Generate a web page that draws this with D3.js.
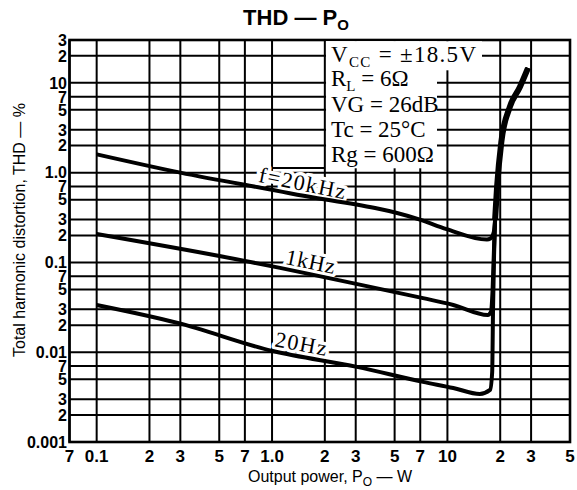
<!DOCTYPE html>
<html><head><meta charset="utf-8">
<script src="https://cdn.jsdelivr.net/npm/d3@7"></script>
<style>body{margin:0;background:#fff}</style>
</head><body><svg id="c" width="577" height="490"></svg>
<script>
// ---- data ----
const xTicks=[0.07,0.1,0.2,0.3,0.5,0.7,1,2,3,5,7,10,20,30,50];
const xTickLabels=["7","0.1","2","3","5","7","1.0","2","3","5","7","10","2","3","5"];
const yTicks=[0.001,0.002,0.003,0.005,0.007,0.01,0.02,0.03,0.05,0.07,0.1,0.2,0.3,0.5,0.7,1,2,3,5,7,10,20,30];
const yTickLabels=["0.001","2","3","5","7","0.01","2","3","5","7","0.1","2","3","5","7","1.0","2","3","5","7","10","2","3"];
const curve20k=[[0.1,1.6],[0.3,1.0],[1.26,0.59],[6.97,0.30],[9.9,0.235],[16.8,0.18],[17.6,0.185],[18.4,0.22]];
const curve1k=[[0.1,0.207],[0.7,0.104],[1.11,0.087],[1.95,0.069],[7.26,0.040],[10.8,0.0336],[17.0,0.026],[17.7,0.028],[18.1,0.05],[18.45,0.15]];
const curve20=[[0.1,0.0336],[0.29,0.0212],[1.01,0.0103],[3.05,0.00686],[7.26,0.00467],[10.8,0.0040],[15.3,0.00343],[17.5,0.0038],[18.0,0.006],[18.2,0.03],[18.45,0.12]];
const tail=[[18.7,0.3],[19.2,0.7],[20.3,2.2],[22.7,5.4],[25.9,9.0],[28.8,14.6]];
const seriesNames=["f=20kHz","1kHz","20Hz"];
const labelX=[1.44,1.6,1.42];
const conditions=[["V","CC"," = ±18.5V"],["R","L"," = 6Ω"],["VG = 26dB","",""],["Tc = 25°C","",""],["Rg = 600Ω","",""]];

// ---- chart ----
const W=577,H=490;
const x=d3.scaleLog().domain([0.07,50]).range([69.5,570]);
const y=d3.scaleLog().domain([0.001,30]).range([442,40]);
const svg=d3.select("#c");
svg.append("rect").attr("width",W).attr("height",H).attr("fill","#fff");

const grid=svg.append("g").attr("stroke","#000").attr("stroke-width",2);
grid.selectAll("line.v").data(xTicks).join("line").attr("class","v")
  .attr("x1",d=>x(d)).attr("x2",d=>x(d)).attr("y1",y(30)).attr("y2",y(0.001));
grid.selectAll("line.h").data(yTicks).join("line").attr("class","h")
  .attr("y1",d=>y(d)).attr("y2",d=>y(d)).attr("x1",x(0.07)).attr("x2",x(50));
svg.append("rect").attr("x",x(0.07)).attr("y",y(30)).attr("width",x(50)-x(0.07)).attr("height",y(0.001)-y(30))
  .attr("fill","none").attr("stroke","#000").attr("stroke-width",2.6);

// condition box (white, hides grid)
svg.append("rect").attr("x",x(2)+1.2).attr("y",y(30)+1.3).attr("width",482-x(2)-1.2).attr("height",29).attr("fill","#fff");
svg.append("rect").attr("x",x(2)+1.2).attr("y",y(30)+1.3).attr("width",437-x(2)-1.2).attr("height",127).attr("fill","#fff");
svg.append("line").attr("x1",x(1)).attr("x2",x(2)).attr("y1",168).attr("y2",168).attr("stroke","#000").attr("stroke-width",2);

const cond=svg.append("g").attr("font-family","'Liberation Serif','DejaVu Serif',serif").attr("font-size",23).attr("fill","#000");
const baseY=[62,86,112,137,162];
conditions.forEach((c,i)=>{
  const t=cond.append("text").attr("x",331).attr("y",baseY[i]);
  t.append("tspan").text(c[0]);
  if(c[1]){t.append("tspan").attr("font-size",15).attr("dy",5).text(c[1]);
    t.append("tspan").attr("dy",-5).text(c[2]);}
  if(i===0) t.attr("textLength",145).attr("lengthAdjust","spacing");
});

const line=d3.line().x(d=>x(d[0])).y(d=>y(d[1])).curve(d3.curveMonotoneX);
const all=[curve20k,curve1k,curve20];

function interp(series,xv){
  for(let i=0;i<series.length-1;i++){
    const a=series[i],b=series[i+1];
    if(xv>=a[0]&&xv<=b[0]){
      const t=(Math.log(xv)-Math.log(a[0]))/(Math.log(b[0])-Math.log(a[0]));
      const ly=Math.log(a[1])+t*(Math.log(b[1])-Math.log(a[1]));
      const ang=Math.atan2(y(b[1])-y(a[1]),x(b[0])-x(a[0]))*180/Math.PI;
      return {px:x(xv),py:y(Math.exp(ly)),ang};
    }
  }
}
const labW=[88,50,52];
const labs=svg.append("g");
function drawLabels(halo){
  all.forEach((s,i)=>{
    const p=interp(s,labelX[i]);
    const t=labs.append("text").attr("transform",`translate(${p.px},${p.py}) rotate(${p.ang})`)
      .attr("y",-5).attr("text-anchor","middle")
      .attr("font-family","'Liberation Serif','DejaVu Serif',serif").attr("font-size",22)
      .attr("textLength",labW[i]).attr("lengthAdjust","spacing").text(seriesNames[i]);
    if(halo) t.attr("fill","#fff").attr("stroke","#fff").attr("stroke-width",7).attr("stroke-linejoin","round");
    else t.attr("fill","#000");
  });
}
drawLabels(true);
svg.append("g").selectAll("path").data(all).join("path")
  .attr("d",d=>line(d.concat(tail))).attr("fill","none").attr("stroke","#000").attr("stroke-width",4).attr("stroke-linejoin","round");
svg.append("path").attr("d",line(tail)).attr("fill","none").attr("stroke","#000").attr("stroke-width",6);
drawLabels(false);

const tf="'Liberation Sans',Arial,Helvetica,sans-serif";
svg.append("g").selectAll("text").data(yTicks).join("text")
  .attr("x",67).attr("y",d=>y(d)).attr("dy","0.36em").attr("text-anchor","end")
  .attr("font-family",tf).attr("font-weight","bold").attr("font-size",16)
  .text((d,i)=>yTickLabels[i]);
svg.append("g").selectAll("text").data(xTicks).join("text")
  .attr("x",d=>x(d)).attr("y",462).attr("text-anchor","middle")
  .attr("font-family",tf).attr("font-weight","bold").attr("font-size",17)
  .text((d,i)=>xTickLabels[i]);

const title=svg.append("text").attr("x",296).attr("y",25).attr("text-anchor","middle")
  .attr("font-family",tf).attr("font-weight","bold").attr("font-size",22);
title.append("tspan").text("THD — P");
title.append("tspan").attr("font-size",15).attr("dy",5).text("O");

const xt=svg.append("text").attr("x",330).attr("y",482).attr("text-anchor","middle")
  .attr("font-family",tf).attr("font-size",16);
xt.append("tspan").text("Output power, P");
xt.append("tspan").attr("font-size",12).attr("dy",4).text("O");
xt.append("tspan").attr("dy",-4).text(" — W");
svg.append("text").attr("transform","translate(25,230) rotate(-90)").attr("text-anchor","middle")
  .attr("font-family",tf).attr("font-size",16).text("Total harmonic distortion, THD — %");
</script></body></html>
